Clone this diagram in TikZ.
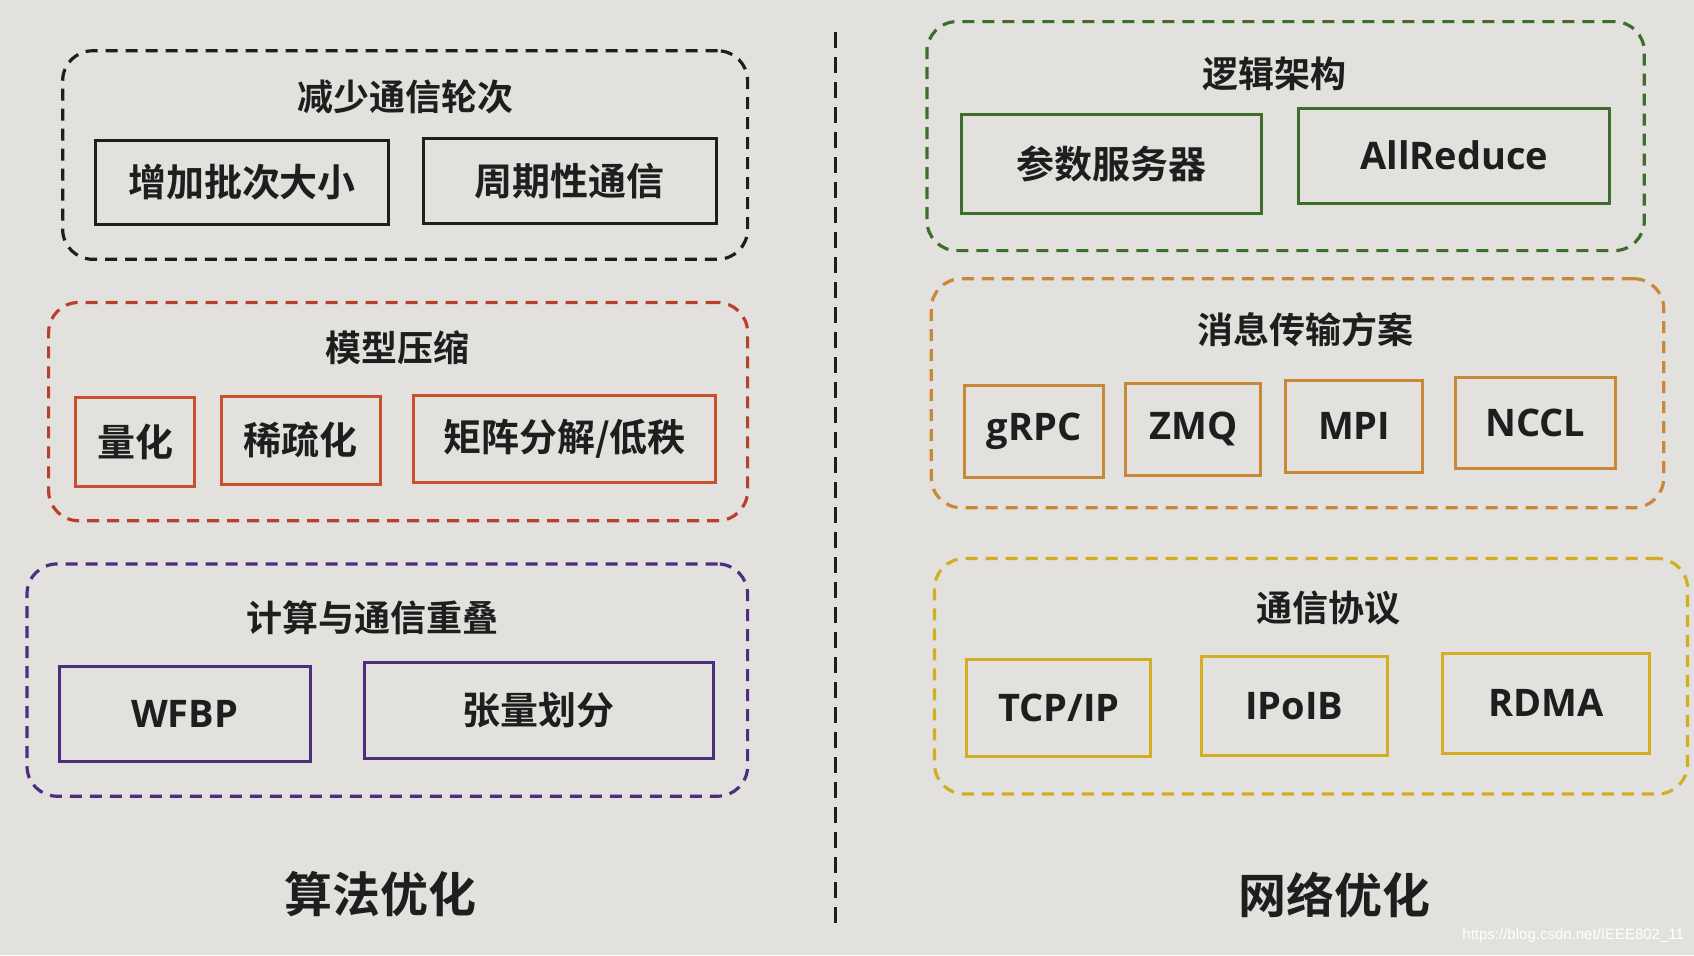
\documentclass[tikz,border=0pt]{standalone}
\usepackage{fontspec}
\setmainfont{Open Sans}
\newfontfamily\cjk{Noto Sans CJK SC}[BoldFont={Noto Sans CJK SC Bold}]
\newfontfamily\wmfont{Liberation Sans}
\usetikzlibrary{fit}
\definecolor{paper}{HTML}{E3E1DD}
\definecolor{cblack}{HTML}{1E1E1E}
\definecolor{cred}{HTML}{B8402C}
\definecolor{cboxred}{HTML}{C9502E}
\definecolor{cpurple}{HTML}{4E2C80}
\definecolor{cgreen}{HTML}{3E6E2C}
\definecolor{corange}{HTML}{C98838}
\definecolor{cyellow}{HTML}{D2AE22}
\begin{document}
\begin{tikzpicture}[x=1.0804pt,y=-1.0804pt,
  grp/.style={rectangle,rounded corners=30pt,line width=3.2pt,dash pattern=on 12pt off 8pt,inner sep=0pt},
  bx/.style={rectangle,line width=3pt,inner sep=0pt},
  lt/.style={text=cblack,font=\fontsize{38}{40}\selectfont\bfseries},
  cj/.style={text=cblack,font=\fontsize{38}{40}\selectfont\cjk\bfseries},
  ttl/.style={text=cblack,font=\fontsize{36}{38}\selectfont\cjk\bfseries},
  big/.style={text=cblack,font=\fontsize{48}{50}\selectfont\cjk\bfseries},
  divider/.style={line width=3.2pt,cblack,dash pattern=on 16pt off 9pt}]
\fill[paper] (0,0) rectangle (1568,884);
\useasboundingbox (0,0) rectangle (1568,884);
% ---- left: group 1
\node[grp,draw=cblack,fit={(58,47)(692,240)}] (g1) {};
\node[ttl] (t1) at (375,90) {减少通信轮次};
\node[bx,draw=cblack,fit={(88,130)(360,208)},label={[cj]center:增加批次大小}] (b11) {};
\node[bx,draw=cblack,fit={(392,128)(663,207)},label={[cj]center:周期性通信}] (b12) {};
% ---- left: group 2
\node[grp,draw=cred,fit={(45,280)(692,482)}] (g2) {};
\node[ttl] (t2) at (368,322) {模型压缩};
\node[bx,draw=cboxred,fit={(70,368)(180,450)},label={[cj]center:量化}] (b21) {};
\node[bx,draw=cboxred,fit={(205,367)(352,448)},label={[cj]center:稀疏化}] (b22) {};
\node[bx,draw=cboxred,fit={(383,366)(662,447)},label={[cj]center:矩阵分解/低秩}] (b23) {};
% ---- left: group 3
\node[grp,draw=cpurple,fit={(25,522)(692,737)}] (g3) {};
\node[ttl] (t3) at (345,572) {计算与通信重叠};
\node[bx,draw=cpurple,fit={(55,617)(287,705)},label={[lt]center:WFBP}] (b31) {};
\node[bx,draw=cpurple,fit={(337,613)(660,702)},label={[cj]center:张量划分}] (b32) {};
\node[big] (L) at (352,828) {算法优化};
% ---- divider
\coordinate (d1) at (773,30);
\coordinate (d2) at (773,862);
\draw[divider] (d1) -- (d2);
% ---- right: group 1
\node[grp,draw=cgreen,fit={(858,20)(1522,232)}] (h1) {};
\node[ttl] (s1) at (1180,68) {逻辑架构};
\node[bx,draw=cgreen,fit={(890,106)(1168,198)},label={[cj]center:参数服务器}] (c11) {};
\node[bx,draw=cgreen,fit={(1202,100)(1490,188)},label={[lt]center:AllReduce}] (c12) {};
% ---- right: group 2
\node[grp,draw=corange,fit={(862,258)(1540,470)}] (h2) {};
\node[ttl] (s2) at (1208,305) {消息传输方案};
\node[bx,draw=corange,fit={(893,357)(1021,442)},label={[lt]center:gRPC}] (c21) {};
\node[bx,draw=corange,fit={(1042,355)(1167,440)},label={[lt]center:ZMQ}] (c22) {};
\node[bx,draw=corange,fit={(1190,352)(1317,437)},label={[lt]center:MPI}] (c23) {};
\node[bx,draw=corange,fit={(1347,349)(1495,434)},label={[lt]center:NCCL}] (c24) {};
% ---- right: group 3
\node[grp,draw=cyellow,fit={(865,517)(1562,735)}] (h3) {};
\node[ttl] (s3) at (1230,563) {通信协议};
\node[bx,draw=cyellow,fit={(895,610)(1065,700)},label={[lt]center:TCP/IP}] (c31) {};
\node[bx,draw=cyellow,fit={(1112,608)(1284,699)},label={[lt]center:IPoIB}] (c32) {};
\node[bx,draw=cyellow,fit={(1335,605)(1527,697)},label={[lt]center:RDMA}] (c33) {};
\node[big] (R) at (1235,828) {网络优化};
% ---- watermark
\node[text=white,font=\fontsize{15}{17}\selectfont\wmfont,anchor=east] (wm) at (1562,866) {https://blog.csdn.net/IEEE802\_11};
\end{tikzpicture}
\end{document}
